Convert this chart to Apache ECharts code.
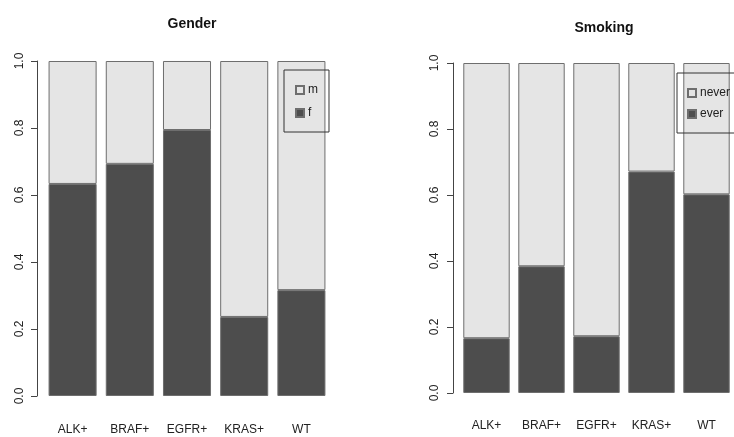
<!DOCTYPE html>
<html>
<head>
<meta charset="utf-8">
<script src="https://cdn.jsdelivr.net/npm/echarts@6/dist/echarts.min.js"></script>
<style>
  html, body { margin: 0; padding: 0; background: #ffffff; }
  #chart { width: 734px; height: 437px; }
</style>
</head>
<body>
<div id="chart"></div>
<script>
// Mutation groups shown on both panels
const categories = ['ALK+', 'BRAF+', 'EGFR+', 'KRAS+', 'WT'];

// Gender proportions per group
const genderF = [0.633, 0.693, 0.794, 0.236, 0.316];
const genderM = [0.367, 0.307, 0.206, 0.764, 0.684];

// Smoking proportions per group
const smokingEver  = [0.166, 0.384, 0.172, 0.671, 0.602];
const smokingNever = [0.834, 0.616, 0.828, 0.329, 0.398];

const DARK = '#4d4d4d';
const LIGHT = '#e5e5e5';
const FONT = '"Liberation Sans", Arial, sans-serif';

const chart = echarts.init(document.getElementById('chart'), null, { renderer: 'canvas' });

function yAxisFor(gridIndex, offset, margin) {
  return {
    type: 'value', gridIndex: gridIndex, min: 0, max: 1, interval: 0.2,
    offset: offset,
    splitLine: { show: false },
    axisLine: { show: true, lineStyle: { color: '#444', width: 1 } },
    axisTick: { show: true, length: 6, lineStyle: { color: '#444' } },
    axisLabel: {
      rotate: 90, margin: margin, color: '#222', fontSize: 12, fontFamily: FONT,
      formatter: v => v.toFixed(1)
    }
  };
}

function xAxisFor(gridIndex, margin) {
  return {
    type: 'category', gridIndex: gridIndex, data: categories,
    axisLine: { show: false }, axisTick: { show: false },
    axisLabel: { margin: margin, color: '#222', fontSize: 12, fontFamily: FONT }
  };
}

function barSeries(name, data, idx, color, gap) {
  return {
    name: name, type: 'bar', stack: 'panel' + idx,
    xAxisIndex: idx, yAxisIndex: idx,
    data: data, barCategoryGap: gap,
    itemStyle: { color: color, borderColor: '#6e6e6e', borderWidth: 1 },
    emphasis: { disabled: true }
  };
}

function legendFor(names, left, top, gap, padding) {
  return {
    data: names, orient: 'vertical', left: left, top: top,
    icon: 'rect', itemWidth: 8, itemHeight: 8, itemGap: gap,
    borderColor: '#333', borderWidth: 1, borderRadius: 0,
    padding: padding, selectedMode: false,
    textStyle: { color: '#222', fontSize: 12, fontFamily: FONT, padding: [0, 0, 0, -1] }
  };
}

chart.setOption({
  animation: false,
  title: [
    { text: 'Gender', left: 187, top: 12, textAlign: 'center',
      textStyle: { fontSize: 14, fontWeight: 'bold', color: '#111', fontFamily: FONT } },
    { text: 'Smoking', left: 599, top: 16, textAlign: 'center',
      textStyle: { fontSize: 14, fontWeight: 'bold', color: '#111', fontFamily: FONT } }
  ],
  grid: [
    { left: 44, top: 61, width: 286, height: 335 },
    { left: 459, top: 63, width: 281.5, height: 330 }
  ],
  xAxis: [xAxisFor(0, 28), xAxisFor(1, 27)],
  yAxis: [yAxisFor(0, 7, 11), yAxisFor(1, 6, 12)],
  legend: [
    legendFor(['m', 'f'], 284, 70, 11, [14, 11, 13, 11]),
    legendFor(['never', 'ever'], 677, 73, 9, [14, 30, 13, 10])
  ],
  series: [
    barSeries('f', genderF, 0, DARK, '16%'),
    barSeries('m', genderM, 0, LIGHT, '16%'),
    barSeries('ever', smokingEver, 1, DARK, '15.6%'),
    barSeries('never', smokingNever, 1, LIGHT, '15.6%')
  ]
});
</script>
</body>
</html>
